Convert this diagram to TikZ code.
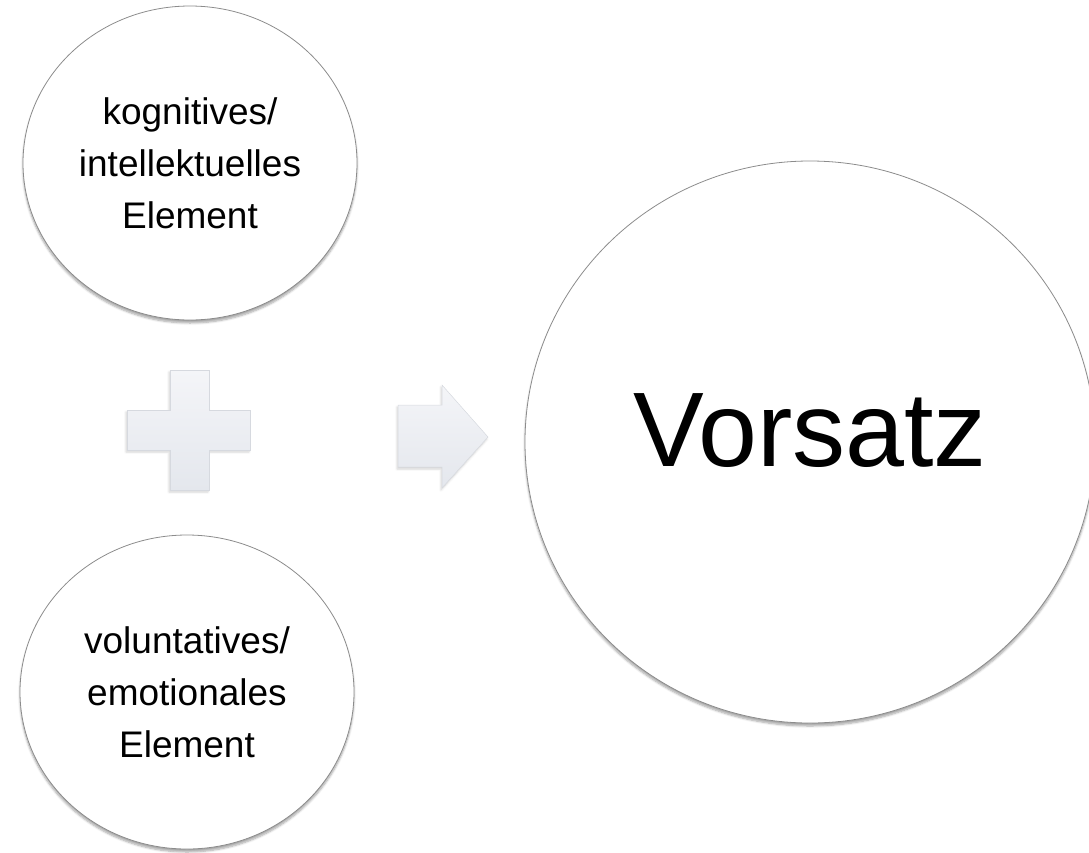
\documentclass[tikz,border=0pt]{standalone}
\usepackage{fontspec}
\setmainfont{Liberation Sans}
\usetikzlibrary{shapes.geometric,shadows.blur}
\definecolor{glyphtop}{RGB}{244,245,248}
\definecolor{glyphbot}{RGB}{228,231,237}
\definecolor{glyphedge}{RGB}{214,217,223}
\begin{document}
\begin{tikzpicture}[x=1pt,y=-1pt,
  bubble/.style={ellipse, draw=black!45, line width=0.8pt, fill=white, inner sep=0pt, align=center,
    blur shadow={shadow xshift=0pt, shadow yshift=-3pt, shadow blur steps=6, shadow opacity=35}},
  smalltext/.style={font=\fontsize{37}{52}\selectfont},
  bigtext/.style={font=\fontsize{106}{120}\selectfont},
  glyph/.style={top color=glyphtop, bottom color=glyphbot, draw=glyphedge, line width=0.5pt,
    blur shadow={shadow xshift=-1pt, shadow yshift=-2pt, shadow blur steps=4, shadow opacity=18}}
]
\useasboundingbox (0,0) rectangle (1089,852);
\node[bubble, smalltext, minimum width=334pt, minimum height=314pt] (kog) at (190,163) {kognitives/\\intellektuelles\\Element};
\node[bubble, smalltext, minimum width=334pt, minimum height=314pt] (vol) at (187,692) {voluntatives/\\emotionales\\Element};
\node[bubble, minimum width=570pt, minimum height=562pt] (vor) at (810,442) {};
\node[bigtext, inner sep=0pt] (vortext) at (810,431) {Vorsatz};
% plus sign
\path[glyph] (170,370) -- (209,370) -- (209,410) -- (250,410) -- (250,450) -- (209,450) -- (209,490) -- (170,490) -- (170,450) -- (127,450) -- (127,410) -- (170,410) -- cycle;
% arrow
\path[glyph] (398,405) -- (442,405) -- (442,385) -- (488,437) -- (442,488) -- (442,467) -- (398,467) -- cycle;
\end{tikzpicture}
\end{document}
